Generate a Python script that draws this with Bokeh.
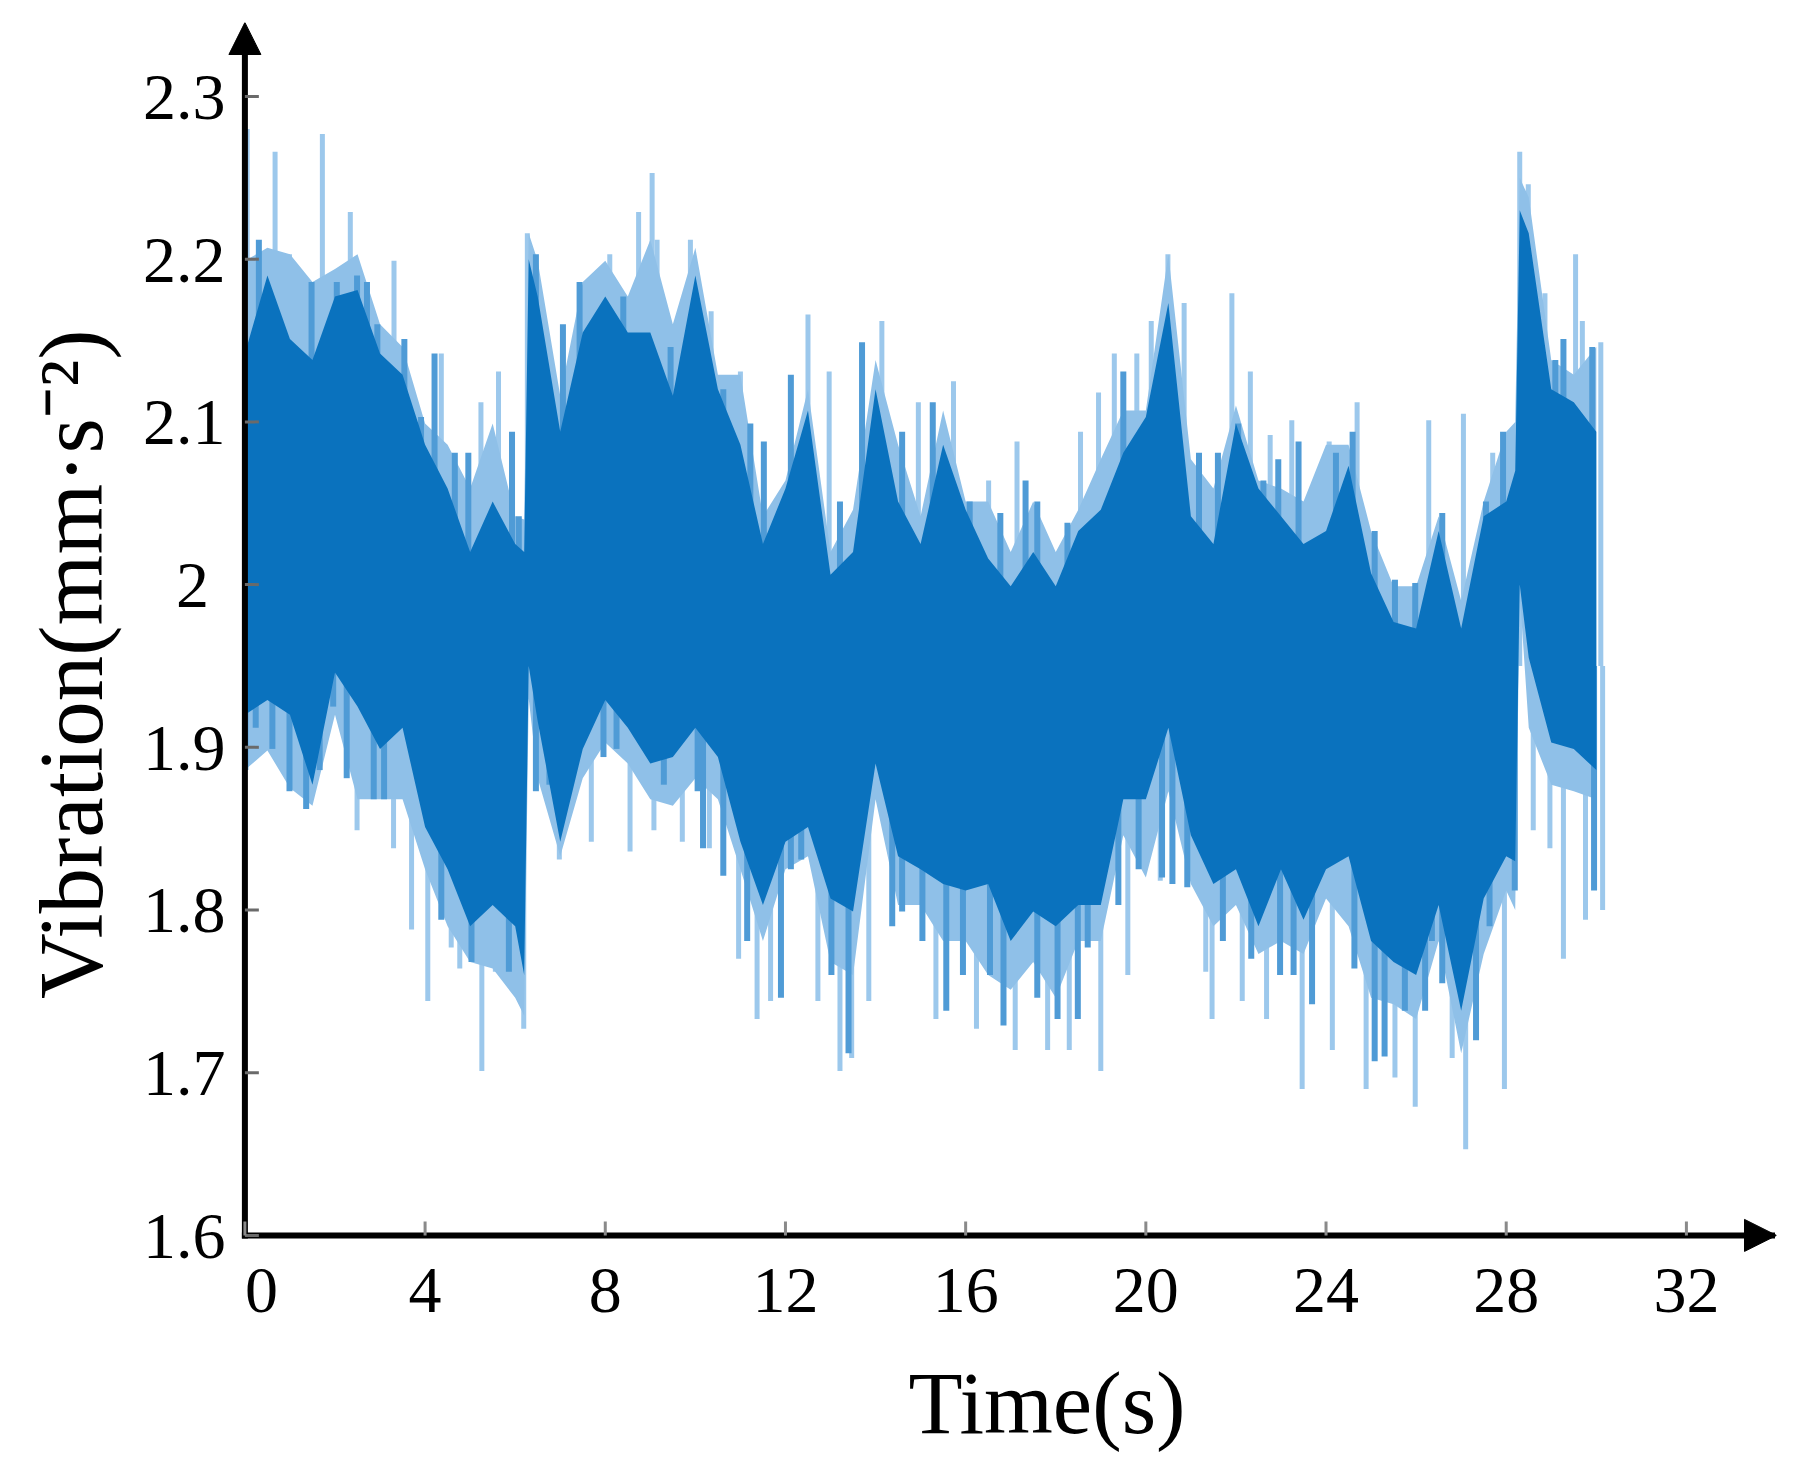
from bokeh.plotting import figure
from bokeh.models import Range1d, FixedTicker, Arrow, NormalHead, Title, ColumnDataSource
from bokeh.embed import file_html
from bokeh.resources import INLINE

# ---- data ----
# dense core band (dark) and outer fringe band, sampled in time (s)
t_env = [0.0, 0.5, 1.0, 1.5, 2.0, 2.5, 3.0, 3.5, 4.0, 4.5, 5.0, 5.5, 6.0, 6.2, 6.3, 6.5,
         7.0, 7.5, 8.0, 8.5, 9.0, 9.5, 10.0, 10.5, 11.0, 11.5, 12.0, 12.5, 13.0, 13.5,
         14.0, 14.5, 15.0, 15.5, 16.0, 16.5, 17.0, 17.5, 18.0, 18.5, 19.0, 19.5, 20.0,
         20.5, 21.0, 21.5, 22.0, 22.5, 23.0, 23.5, 24.0, 24.5, 25.0, 25.5, 26.0, 26.5,
         27.0, 27.5, 28.0, 28.2, 28.3, 28.5, 29.0, 29.5, 30.0]
core_hi = [2.142, 2.190, 2.151, 2.138, 2.177, 2.181, 2.142, 2.129, 2.086, 2.059, 2.020, 2.051,
           2.025, 2.020, 2.200, 2.177, 2.094, 2.155, 2.177, 2.155, 2.155, 2.116, 2.190, 2.120,
           2.086, 2.025, 2.059, 2.107, 2.006, 2.020, 2.120, 2.051, 2.025, 2.086, 2.046, 2.016,
           1.999, 2.020, 1.999, 2.033, 2.046, 2.081, 2.103, 2.173, 2.042, 2.025, 2.099, 2.059,
           2.042, 2.025, 2.033, 2.073, 2.007, 1.977, 1.973, 2.033, 1.973, 2.042, 2.051, 2.070,
           2.230, 2.216, 2.120, 2.112, 2.094]
outer_hi = [2.199, 2.207, 2.203, 2.186, 2.194, 2.203, 2.160, 2.146, 2.099, 2.086, 2.059, 2.099,
            2.042, 2.040, 2.216, 2.199, 2.116, 2.186, 2.199, 2.177, 2.212, 2.160, 2.207, 2.129,
            2.129, 2.042, 2.064, 2.120, 2.020, 2.046, 2.138, 2.086, 2.042, 2.107, 2.051, 2.051,
            2.020, 2.051, 2.020, 2.046, 2.077, 2.107, 2.107, 2.203, 2.077, 2.059, 2.110, 2.064,
            2.059, 2.051, 2.086, 2.086, 2.033, 1.999, 1.999, 2.042, 1.990, 2.051, 2.094, 2.100,
            2.250, 2.238, 2.138, 2.129, 2.146]
core_lo = [1.920, 1.929, 1.920, 1.877, 1.946, 1.925, 1.899, 1.912, 1.851, 1.825, 1.790, 1.803,
           1.790, 1.760, 1.950, 1.916, 1.842, 1.899, 1.929, 1.912, 1.890, 1.894, 1.912, 1.894,
           1.842, 1.803, 1.842, 1.851, 1.807, 1.799, 1.890, 1.833, 1.825, 1.816, 1.812, 1.816,
           1.781, 1.799, 1.790, 1.803, 1.803, 1.868, 1.868, 1.912, 1.846, 1.816, 1.825, 1.790,
           1.825, 1.794, 1.825, 1.833, 1.781, 1.768, 1.760, 1.803, 1.738, 1.807, 1.833, 1.830,
           2.000, 1.955, 1.903, 1.899, 1.886]
outer_lo = [1.886, 1.898, 1.875, 1.864, 1.920, 1.868, 1.868, 1.868, 1.825, 1.790, 1.768, 1.764,
            1.746, 1.735, 1.930, 1.881, 1.833, 1.881, 1.903, 1.890, 1.868, 1.864, 1.881, 1.868,
            1.825, 1.781, 1.825, 1.833, 1.768, 1.760, 1.868, 1.803, 1.803, 1.781, 1.781, 1.760,
            1.751, 1.768, 1.746, 1.781, 1.781, 1.846, 1.820, 1.873, 1.816, 1.790, 1.803, 1.773,
            1.781, 1.773, 1.807, 1.790, 1.746, 1.742, 1.733, 1.781, 1.712, 1.773, 1.812, 1.800,
            1.995, 1.912, 1.877, 1.873, 1.868]

# tall isolated peaks (light strokes)
spike_up_t = [0.05, 0.67, 0.99, 1.72, 2.34, 3.31, 4.36, 5.24, 5.63, 6.27, 8.10, 8.74, 9.04,
              9.15, 9.89, 10.35, 11.0, 12.5, 12.97, 14.14, 14.95, 15.73, 16.51, 17.14, 18.55,
              18.95, 19.3, 19.8, 20.12, 20.49, 20.85, 21.91, 22.32, 22.76, 23.24, 24.07, 24.69,
              26.28, 27.05, 27.7, 28.3, 28.49, 28.86, 29.54, 29.69, 30.1]
spike_up_v = [2.280, 2.266, 2.203, 2.277, 2.229, 2.199, 2.142, 2.112, 2.131, 2.216, 2.203, 2.229,
              2.253, 2.212, 2.212, 2.168, 2.131, 2.166, 2.131, 2.162, 2.112, 2.125, 2.064, 2.088,
              2.094, 2.118, 2.142, 2.142, 2.162, 2.203, 2.173, 2.179, 2.131, 2.092, 2.101, 2.088,
              2.112, 2.101, 2.105, 2.081, 2.266, 2.246, 2.179, 2.203, 2.162, 2.149]
spike_dn_t = [2.49, 3.30, 3.70, 4.06, 4.58, 4.77, 5.26, 5.56, 6.19, 6.98, 7.69, 8.55, 9.08, 9.71,
              10.31, 10.96, 11.37, 11.67, 12.72, 13.21, 13.47, 13.85, 15.34, 16.24, 17.1, 17.82,
              18.3, 19.0, 19.6, 20.32, 21.33, 21.47, 22.14, 22.68, 23.47, 24.14, 24.89, 25.53,
              25.98, 26.8, 27.1, 27.96, 28.6, 28.97, 29.27, 29.76, 30.14]
spike_dn_v = [1.849, 1.838, 1.788, 1.744, 1.777, 1.764, 1.701, 1.762, 1.727, 1.831, 1.842, 1.836,
              1.849, 1.842, 1.838, 1.770, 1.733, 1.744, 1.744, 1.701, 1.709, 1.744, 1.733, 1.727,
              1.714, 1.714, 1.714, 1.701, 1.760, 1.818, 1.762, 1.733, 1.744, 1.733, 1.690, 1.714,
              1.690, 1.697, 1.679, 1.709, 1.653, 1.690, 1.849, 1.838, 1.770, 1.794, 1.800]

# secondary fringe strokes (mid tone)
fringe_up_t = [0.31, 1.21, 1.48, 2.04, 2.49, 2.71, 2.94, 3.54, 3.91, 4.21, 4.66, 4.96, 5.93,
               6.08, 6.46, 6.76, 7.06, 7.43, 7.81, 8.40, 9.45, 10.16, 10.62, 11.22, 11.52,
               12.12, 13.21, 13.70, 14.59, 15.27, 16.09, 16.77, 17.33, 17.59, 18.26, 19.50,
               20.70, 21.18, 21.60, 22.05, 22.61, 22.94, 23.39, 24.22, 24.59, 25.08, 25.53,
               25.98, 26.58, 27.25, 27.55, 27.93, 29.09, 29.27, 29.91]
fringe_up_v = [2.212, 2.120, 2.186, 2.186, 2.190, 2.186, 2.160, 2.151, 2.103, 2.142, 2.081, 2.081,
               2.094, 2.042, 2.203, 2.107, 2.160, 2.186, 2.160, 2.177, 2.146, 2.112, 2.120, 2.099,
               2.088, 2.129, 2.051, 2.149, 2.094, 2.112, 2.051, 2.044, 2.064, 2.051, 2.038, 2.131,
               2.099, 2.081, 2.081, 2.099, 2.064, 2.077, 2.088, 2.081, 2.094, 2.033, 2.003, 2.001,
               2.044, 1.990, 2.051, 2.094, 2.138, 2.151, 2.146]
fringe_dn_t = [0.01, 0.24, 0.61, 0.99, 1.36, 1.66, 1.96, 2.26, 2.86, 3.09, 4.36, 5.03, 5.86,
               6.46, 6.76, 7.21, 7.96, 8.25, 9.30, 10.05, 10.17, 10.62, 11.15, 11.90, 12.12,
               12.35, 13.02, 13.40, 14.37, 14.59, 15.04, 15.57, 15.94, 16.54, 16.84, 17.59,
               18.04, 18.49, 18.71, 19.39, 19.84, 20.36, 20.59, 20.92, 21.71, 22.34, 22.98,
               23.28, 23.69, 24.63, 25.08, 25.30, 25.75, 26.20, 26.35, 26.58, 27.33, 27.63,
               28.19, 29.95]
fringe_dn_v = [1.886, 1.912, 1.899, 1.873, 1.862, 1.886, 1.925, 1.881, 1.868, 1.868, 1.794, 1.768,
               1.762, 1.873, 1.877, 1.881, 1.894, 1.899, 1.877, 1.873, 1.838, 1.821, 1.781, 1.746,
               1.825, 1.831, 1.760, 1.712, 1.790, 1.799, 1.781, 1.738, 1.760, 1.760, 1.729, 1.746,
               1.733, 1.733, 1.777, 1.803, 1.825, 1.820, 1.816, 1.814, 1.781, 1.770, 1.760, 1.760,
               1.742, 1.764, 1.707, 1.710, 1.738, 1.738, 1.781, 1.755, 1.720, 1.790, 1.812, 1.812]

x_ticks = [0, 4, 8, 12, 16, 20, 24, 28, 32]
y_ticks = [1.6, 1.7, 1.8, 1.9, 2.0, 2.1, 2.2, 2.3]
y_labels = ["1.6", "1.7", "1.8", "1.9", "2\u2008", "2.1", "2.2", "2.3"]
x_labels = ["\u20070", "4", "8", "12", "16", "20", "24", "28", "32"]

FONT = "Liberation Serif"
DARK = "#0A72BE"
MID = "#4f9bd6"
OUTER = "#8fc0e8"
LIGHT = "#9cc8ec"
BASE = 1.95

X0, X1 = -0.475, 34.0
Y0, Y1 = 1.58949, 2.34547

p = figure(frame_width=1553, frame_height=1230,
           x_range=Range1d(X0, X1), y_range=Range1d(Y0, Y1),
           output_backend="svg", toolbar_location=None,
           min_border_left=0, min_border_top=22, min_border_right=4, min_border_bottom=0)
p.outline_line_color = None
p.grid.visible = False
p.background_fill_color = "white"

src = ColumnDataSource(dict(t=t_env, core_hi=core_hi, outer_hi=outer_hi,
                            core_lo=core_lo, outer_lo=outer_lo))

p.segment(x0=spike_up_t, y0=BASE, x1=spike_up_t, y1=spike_up_v, line_color=LIGHT, line_width=5)
p.segment(x0=spike_dn_t, y0=BASE, x1=spike_dn_t, y1=spike_dn_v, line_color=LIGHT, line_width=5)
p.varea(x="t", y1="outer_lo", y2="outer_hi", source=src, fill_color=OUTER)
p.segment(x0=fringe_up_t, y0=BASE, x1=fringe_up_t, y1=fringe_up_v, line_color=MID, line_width=6)
p.segment(x0=fringe_dn_t, y0=BASE, x1=fringe_dn_t, y1=fringe_dn_v, line_color=MID, line_width=6)
p.varea(x="t", y1="core_lo", y2="core_hi", source=src, fill_color=DARK)

# axis lines and tick marks drawn at the data origin (axes with arrows)
p.segment(x0=[0], y0=[y_ticks[0]], x1=[0], y1=[2.33], line_color="black", line_width=6,
          line_cap="square")
p.segment(x0=[0], y0=[y_ticks[0]], x1=[33.9], y1=[y_ticks[0]], line_color="black", line_width=6,
          line_cap="square")
p.segment(x0=[0] * len(y_ticks), y0=y_ticks, x1=[0.31] * len(y_ticks), y1=y_ticks,
          line_color="#6a6a6a", line_width=3)
p.segment(x0=x_ticks, y0=[y_ticks[0]] * len(x_ticks), x1=x_ticks,
          y1=[y_ticks[0] + 0.0085] * len(x_ticks), line_color="#8a8a8a", line_width=3)

head_y = NormalHead(size=32, fill_color="black", line_color="black")
head_x = NormalHead(size=32, fill_color="black", line_color="black")
p.add_layout(Arrow(end=head_y, x_start=0, y_start=2.3, x_end=0, y_end=Y1, line_alpha=0))
p.add_layout(Arrow(end=head_x, x_start=33, y_start=y_ticks[0], x_end=X1, y_end=y_ticks[0],
                   line_alpha=0))

for ax in (p.xaxis[0], p.yaxis[0]):
    ax.axis_line_color = None
    ax.major_tick_line_color = None
    ax.minor_tick_line_color = None
    ax.major_label_text_font = FONT
    ax.major_label_text_font_size = "66px"
    ax.major_label_text_color = "black"

p.xaxis.ticker = FixedTicker(ticks=x_ticks)
p.yaxis.ticker = FixedTicker(ticks=y_ticks)
p.xaxis.major_label_overrides = {k: v for k, v in zip(x_ticks, x_labels)}
p.yaxis.major_label_overrides = {k: v for k, v in zip(y_ticks, y_labels)}
p.xaxis.major_label_standoff = -6
p.yaxis.major_label_standoff = -8

p.add_layout(Title(text="Time(s)", align="left", offset=685, text_font=FONT,
                   text_font_size="88.5px", text_font_style="normal", text_color="black",
                   standoff=46), "below")
p.add_layout(Title(text="Vibration(mm·s⁻²)", align="left", offset=253.5, text_font=FONT,
                   text_font_size="91px", text_font_style="normal", text_color="black",
                   standoff=36), "left")

open("out.html", "w").write(file_html(p, INLINE))
